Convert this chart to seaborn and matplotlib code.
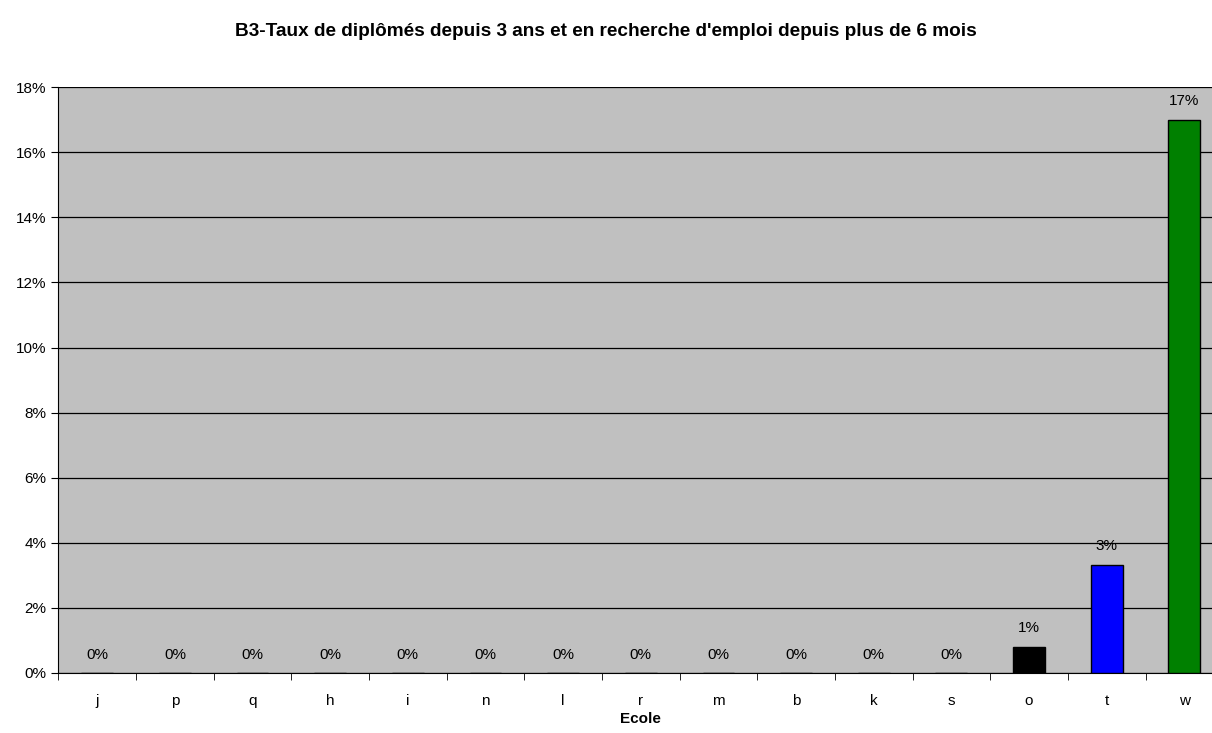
import pandas as pd
import matplotlib.pyplot as plt
import seaborn as sns
from matplotlib.ticker import FixedLocator, PercentFormatter

ecoles = ['j', 'p', 'q', 'h', 'i', 'n', 'l', 'r', 'm', 'b', 'k', 's', 'o', 't', 'w']
taux = [0, 0, 0, 0, 0, 0, 0, 0, 0, 0, 0, 0, 0.8, 3.33, 17.0]
etiquettes = ['0%'] * 12 + ['1%', '3%', '17%']
couleurs = ['#C0C0C0'] * 12 + ['#000000', '#0000FF', '#008000']

df = pd.DataFrame({'Ecole': ecoles, 'taux': taux})

sns.set_style("white")
plt.rcParams['font.family'] = ['Liberation Sans', 'DejaVu Sans']
plt.rcParams['text.color'] = 'black'
plt.rcParams['xtick.color'] = 'black'
plt.rcParams['ytick.color'] = 'black'
plt.rcParams['axes.labelcolor'] = 'black'

fig = plt.figure(figsize=(12.12, 7.33), dpi=100)
ax = fig.add_axes([0.0482, 0.082, 0.961, 0.799])
ax.set_facecolor('#C0C0C0')

sns.barplot(data=df, x='Ecole', y='taux', hue='Ecole', palette=couleurs, saturation=1,
            legend=False, width=0.41, edgecolor='black', linewidth=1, ax=ax, zorder=3)

for i, (v, lab) in enumerate(zip(taux, etiquettes)):
    ax.text(i, v + 0.35, lab, ha='center', va='bottom', fontsize=11, zorder=4)

ax.set_ylim(0, 18)
ax.set_xlim(-0.5, len(ecoles) - 0.5)
ax.set_yticks(range(0, 19, 2))
ax.yaxis.set_major_formatter(PercentFormatter(decimals=0))
ax.grid(axis='y', color='black', linewidth=0.9, zorder=1)
ax.set_axisbelow(True)

ax.tick_params(axis='x', which='major', length=0, pad=15, labelsize=11)
ax.xaxis.set_minor_locator(FixedLocator([i - 0.5 for i in range(len(ecoles) + 1)]))
ax.tick_params(axis='x', which='minor', length=5, direction='out', color='black', bottom=True)
ax.tick_params(axis='y', length=5, direction='out', color='black', left=True, labelsize=11)

for s in ['top', 'right']:
    ax.spines[s].set_visible(False)
ax.spines['left'].set_color('black')
ax.spines['bottom'].set_color('black')

ax.set_xlabel('Ecole', fontsize=11, fontweight='bold', labelpad=3)
ax.set_ylabel('')
fig.suptitle("B3-Taux de diplômés depuis 3 ans et en recherche d'emploi depuis plus de 6 mois",
             fontsize=13.7, fontweight='bold', y=0.968)

fig.savefig('out.png', dpi=100)
